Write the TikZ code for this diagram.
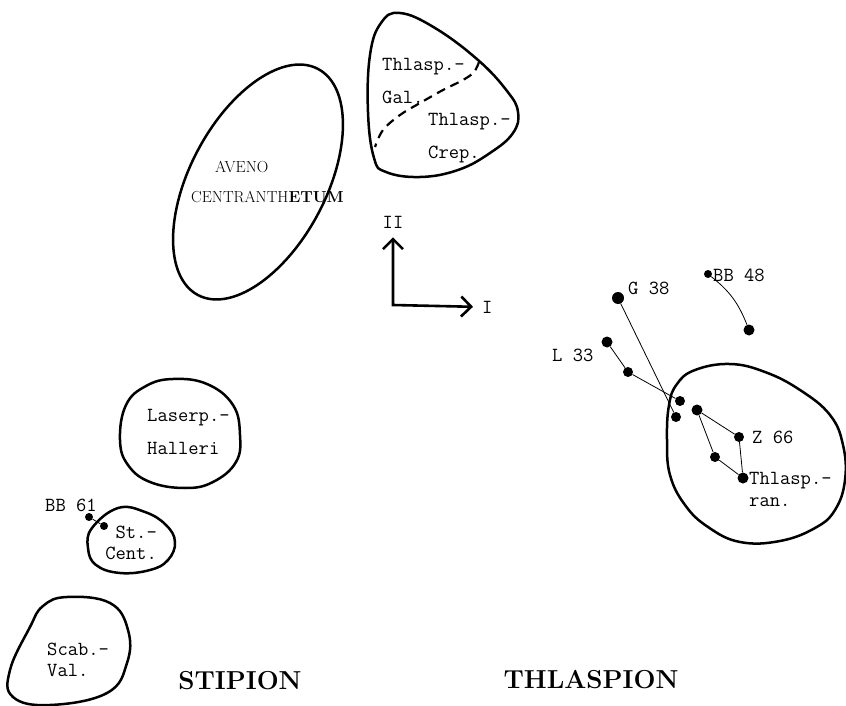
\documentclass[tikz,border=0pt]{standalone}
\usepackage{tikz}
\usetikzlibrary{arrows.meta, shapes.geometric, positioning}
\tikzset{
    blob/.style={line width=2.5pt, line join=round},
    dot/.style={circle, fill, inner sep=0pt, minimum size=10pt},
    lbl/.style={inner sep=0pt, align=left, font=\fontsize{20}{21}\selectfont\ttfamily},
    link/.style={line width=0.8pt},
    axis/.style={line width=2.6pt, line join=miter,
        {Straight Barb[length=10pt,width=20pt]}-{Straight Barb[length=10pt,width=20pt]},
        shorten <=9pt, shorten >=9pt},
    region/.style={inner sep=0pt, font=\fontsize{26}{30}\selectfont\bfseries},
}
\newcommand{\sample}[3][10pt]{
    \node[dot, minimum size=#1] (#2) at (#3) {};
}

\begin{document}
\begin{tikzpicture}[x=1pt, y=-1pt]
    \useasboundingbox (0,0) rectangle (846,706);

    % Aveno-Centranthetum
    \node[draw, ellipse, blob, rotate=62, minimum width=256pt, minimum height=136pt] (aveno) at (258,182) {};
    \node[inner sep=0pt, anchor=west, font=\fontsize{16}{18}\selectfont] (avenotxt) at (215,167) {AVENO};
    \node[inner sep=0pt, anchor=west, font=\fontsize{16}{18}\selectfont] (centrtxt) at (191,197) {CENTRANTH\textbf{ETUM}};

    % Thlasp.-Gal. / Thlasp.-Crep.
    \draw[blob] plot[smooth cycle, tension=0.7] coordinates {
        (400,13) (435,28) (478,60) (507,91) (518,112) (513,133) (490,153)
        (458,170) (420,177) (386,172) (374,158) (368,112) (370,55) (381,23)};
    \draw[blob, line width=2.2pt, dash pattern=on 9pt off 6pt] plot[smooth, tension=0.6] coordinates {
        (479,62) (474,72) (463,80) (443,90) (420,103) (400,115) (383,130) (375,147)};
    \node[lbl, anchor=west] (galtxt) at (382,81.5) {Thlasp.-\\[12pt]Gal.};
    \node[lbl, anchor=west] (creptxt) at (428,138.5) {Thlasp.-\\[12pt]Crep.};

    % axes
    \node[lbl] (axII) at (393,222) {II};
    \node[lbl, anchor=west] (axI) at (482,307) {I};
    \coordinate (origin) at (393,305);
    \draw[axis] (axII.south) -- (origin) -- (axI.west);

    % Stipion
    \draw[blob] plot[smooth cycle, tension=0.7] coordinates {
        (173,379) (207,384) (233,405) (240,435) (236,462) (213,482) (185,488)
        (150,482) (128,465) (120,440) (126,405) (146,386)};
    \node[lbl, anchor=west] (laserptxt) at (147,431.5) {Laserp.-\\[12pt]Halleri};

    \draw[blob] plot[smooth cycle, tension=0.7] coordinates {
        (118,508) (145,512) (166,525) (175,542) (168,560) (150,570) (120,573)
        (96,565) (88,548) (92,528)};
    \node[lbl, align=right, anchor=east] (centtxt) at (157,543) {St.-\\Cent.};
    \sample[8pt]{b61a}{89,517}
    \sample[8pt]{b61b}{104,526}
    \draw[link] (b61a) -- (b61b);
    \node[lbl, anchor=west] (b61txt) at (45,505) {BB 61};

    \draw[blob] plot[smooth cycle, tension=0.7] coordinates {
        (67,597) (110,603) (128,630) (127,663) (107,693) (50,705) (13,697)
        (10,670) (30,627) (43,606)};
    \node[lbl, anchor=west] (scabtxt) at (47,660) {Scab.-\\Val.};

    % Thlaspion
    \draw[blob] plot[smooth cycle, tension=0.7] coordinates {
        (695,370) (730,364) (765,372) (800,390) (830,415) (843,445) (845,480)
        (835,510) (815,528) (780,541) (740,542) (708,527) (685,505) (670,475)
        (667,440) (669,405) (677,384)};
    \node[lbl, anchor=west] (rantxt) at (749,489) {Thlasp.-\\[1pt]ran.};

    \sample[12pt]{g38}{618,298}
    \sample[11pt]{l33a}{607,342}
    \sample{l33b}{628,372}
    \sample{l33c}{680,401}
    \sample{g38b}{676,417}
    \sample[8pt]{bb48a}{708,274}
    \sample[11pt]{bb48b}{749,330}
    \sample[11pt]{z1}{697,410}
    \sample{z66}{739,437}
    \sample{z3}{715,457}
    \sample[11pt]{zran}{743,478}

    \draw[link] (g38) -- (g38b);
    \draw[link] (l33a) -- (l33b) -- (l33c);
    \draw[link] (bb48a) to[bend left=15] (bb48b);
    \draw[link] (z1) -- (z66) -- (zran) -- (z3) -- (z1);

    \node[lbl, anchor=west] (g38txt) at (628,288) {G 38};
    \node[lbl, anchor=west] (bb48txt) at (713,275) {BB 48};
    \node[lbl, anchor=west] (l33txt) at (552,355) {L 33};
    \node[lbl, anchor=west] (z66txt) at (752,437) {Z 66};

    % group names
    \node[region, anchor=base] (stipion) at (240,689) {STIPION};
    \node[region, anchor=base] (thlaspion) at (591,688) {THLASPION};
\end{tikzpicture}
\end{document}
